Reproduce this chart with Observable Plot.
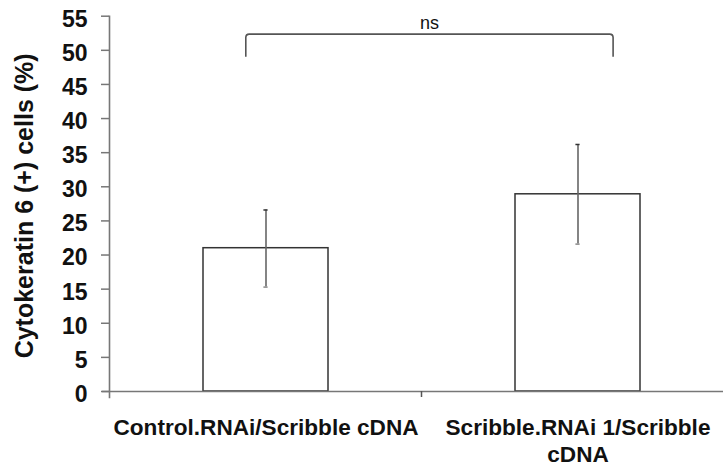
<!DOCTYPE html>
<html><head><meta charset="utf-8">
<script src="https://cdn.jsdelivr.net/npm/d3@7"></script>
<script src="https://cdn.jsdelivr.net/npm/@observablehq/plot@0.6"></script>
<style>
body{margin:0;background:#fff}
#chart svg{display:block;font-family:"Liberation Sans",Arial,sans-serif}
</style>
</head><body><div id="chart"></div>
<script>
const categories = ["Control.RNAi/Scribble cDNA", "Scribble.RNAi 1/Scribble cDNA"];
const tickLabels = ["Control.RNAi/Scribble cDNA", "Scribble.RNAi 1/Scribble\ncDNA"];
const means = [21.0, 28.9];
const errLow = [15.3, 21.6];
const errHigh = [26.6, 36.2];
const yTicks = [0, 5, 10, 15, 20, 25, 30, 35, 40, 45, 50, 55];
const yLabel = "Cytokeratin 6 (+) cells (%)";
const bracketLow = 49.0;
const bracketHigh = 52.3;
const sigLabel = "ns";

const data = categories.map((c, i) => ({cat: c, label: tickLabels[i], mean: means[i], lo: errLow[i], hi: errHigh[i]}));

function bracket(index, scales, values, dimensions) {
  const x = scales.x, y = scales.y;
  const bw = x.bandwidth ? x.bandwidth() : 0;
  const c1 = x(categories[0]) + bw / 2;
  const c2 = x(categories[1]) + bw / 2;
  const x1 = c1 - 19.7, x2 = c2 + 35.6;
  const yT = y(bracketHigh), yB = y(bracketLow);
  const r = 3.5;
  const g = d3.create("svg:g");
  g.append("path")
    .attr("d", `M${x1},${yB} V${yT + r} Q${x1},${yT} ${x1 + r},${yT} H${x2 - r} Q${x2},${yT} ${x2},${yT + r} V${yB}`)
    .attr("fill", "none").attr("stroke", "#555").attr("stroke-width", 1.6);
  g.append("text")
    .attr("x", (x1 + x2) / 2).attr("y", yT - 5.5)
    .attr("text-anchor", "middle")
    .attr("font-size", 18).attr("fill", "#111")
    .text(sigLabel);
  const boundary = (c1 + c2) / 2;
  const y0 = y(0);
  g.append("line")
    .attr("x1", boundary).attr("x2", boundary)
    .attr("y1", y0).attr("y2", y0 + 6)
    .attr("stroke", "#555").attr("stroke-width", 1.5);
  return g.node();
}

const chart = Plot.plot({
  width: 723,
  height: 467,
  marginLeft: 109,
  marginRight: 0,
  marginTop: 15.7,
  marginBottom: 76,
  style: {fontFamily: "Liberation Sans, Arial, sans-serif", background: "#fff"},
  x: {domain: categories, range: [109.7, 733.7], paddingInner: 0.6, paddingOuter: 0.3, axis: null},
  y: {domain: [0, 55], axis: null},
  marks: [
    Plot.barY(data, {x: "cat", y: "mean", fill: "white", stroke: "#333", strokeWidth: 1.5}),
    Plot.ruleX(data, {x: "cat", y1: "lo", y2: "hi", stroke: "#666", strokeWidth: 1.6}),
    Plot.tickY(data, {x: "cat", y: "hi", insetLeft: 60.4, insetRight: 60.4, stroke: "#333", strokeWidth: 1.5}),
    Plot.tickY(data, {x: "cat", y: "lo", insetLeft: 60.4, insetRight: 60.4, stroke: "#888", strokeWidth: 1.5}),
    Plot.frame({anchor: "left", stroke: "#777", strokeWidth: 1.6, insetBottom: -6}),
    Plot.ruleY([0], {stroke: "#777", strokeWidth: 1.6, insetLeft: -7}),
    Plot.axisY({ticks: yTicks, tickSize: 8, tickFormat: () => "", label: null, stroke: "#777", strokeWidth: 1.5}),
    Plot.axisY({ticks: yTicks, tickSize: 0, tickPadding: 22, dy: 3, label: null, fontSize: 23, fontWeight: "bold", color: "#111"}),
    Plot.text(data, {x: "cat", y: 0, text: "label", lineAnchor: "top", dy: 25, fontSize: 22.6, fontWeight: "bold", lineHeight: 1.17, fill: "#111"}),
    Plot.text([yLabel], {frameAnchor: "left", rotate: -90, dx: -94, dy: 2, lineAnchor: "top", textAnchor: "middle", fontSize: 25, fontWeight: "bold", fill: "#111"}),
    bracket
  ]
});
document.getElementById("chart").appendChild(chart);
</script>
</body></html>
